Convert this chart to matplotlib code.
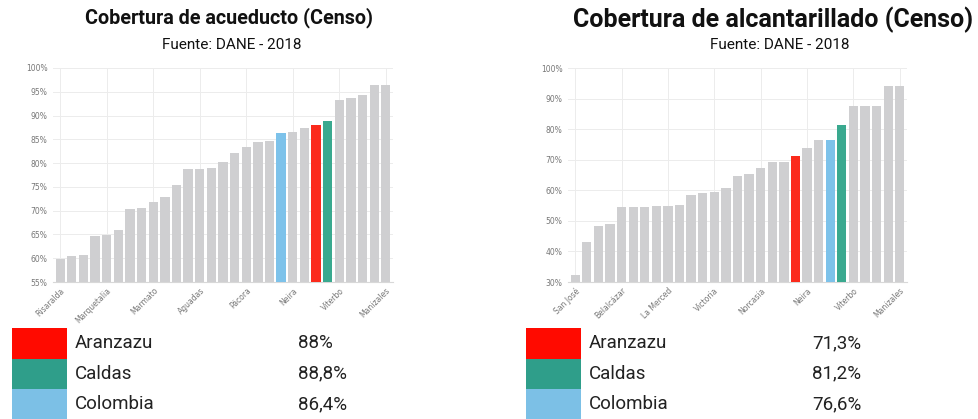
import matplotlib
matplotlib.use("Agg")
import matplotlib.pyplot as plt
from matplotlib.patches import Rectangle
import numpy as np

plt.rcParams['font.family'] = ['Roboto', 'DejaVu Sans']

# ---- data ----
acue_values = [59.8, 60.5, 60.7, 64.7, 64.8, 66.0, 70.3, 70.6, 71.9, 72.8, 75.5, 78.7, 78.8, 78.9,
               80.3, 82.2, 83.4, 84.4, 84.6, 86.4, 86.6, 87.4, 88.0, 88.8, 93.2, 93.6, 94.4, 96.4, 96.4]
acue_colors_idx = {19: 'Colombia', 22: 'Aranzazu', 23: 'Caldas'}
acue_tick_idx = [0, 4, 8, 12, 16, 20, 24, 28]
acue_tick_labels = ['Risaralda', 'Marquetalia', 'Marmato', 'Aguadas', 'Pácora', 'Neira', 'Viterbo', 'Manizales']

alc_values = [32.3, 43.2, 48.2, 49.0, 54.5, 54.6, 54.6, 54.7, 55.0, 55.2, 58.4, 59.0, 59.4, 60.9,
              64.7, 65.4, 67.4, 69.1, 69.3, 71.3, 73.8, 76.6, 76.6, 81.2, 87.6, 87.6, 87.7, 94.0, 94.0]
alc_colors_idx = {19: 'Aranzazu', 22: 'Colombia', 23: 'Caldas'}
alc_tick_idx = [0, 4, 8, 12, 16, 20, 24, 28]
alc_tick_labels = ['San José', 'Belalcázar', 'La Merced', 'Victoria', 'Norcasia', 'Neira', 'Viterbo', 'Manizales']

legend_names = ['Aranzazu', 'Caldas', 'Colombia']
acue_legend_values = ['88%', '88,8%', '86,4%']
alc_legend_values = ['71,3%', '81,2%', '76,6%']

bar_colors = {'Aranzazu': '#fb2a1c', 'Caldas': '#3aa98f', 'Colombia': '#7dc2ea'}
legend_colors = {'Aranzazu': '#ff0a00', 'Caldas': '#2f9e8a', 'Colombia': '#7cc0e6'}
GRAY = '#cfcfd1'

W, H = 979, 419
fig = plt.figure(figsize=(W / 100, H / 100), dpi=100)


def draw_chart(rect, values, special, ticks, labels, ymin, ystep, title, tcx, tcy, tsize, scx):
    ax = fig.add_axes(rect)
    x = np.arange(len(values))
    cols = [bar_colors[special[i]] if i in special else GRAY for i in x]
    ax.bar(x, [v - ymin for v in values], bottom=ymin, width=0.8, color=cols, zorder=3)
    ax.set_ylim(ymin, 100)
    ax.set_xlim(-0.62, len(values) - 0.38)
    yt = np.arange(ymin, 100.1, ystep)
    ax.set_yticks(yt)
    ax.set_yticklabels([f"{int(v)}%" for v in yt], fontsize=5.5, color='#777777', family='DejaVu Sans')
    ax.set_xticks(ticks)
    ax.set_xticklabels(labels, rotation=45, ha='right', rotation_mode='anchor',
                       fontsize=5.5, color='#777777', family='DejaVu Sans')
    ax.tick_params(axis='both', length=0, pad=4)
    ax.tick_params(axis='x', pad=3)
    ax.grid(True, color='#ececec', linewidth=0.7, zorder=0)
    for s in ['top', 'right', 'left']:
        ax.spines[s].set_visible(False)
    ax.spines['bottom'].set_color('#d8d8d8')
    ax.spines['bottom'].set_linewidth(0.8)
    fig.text(tcx / W, 1 - tcy / H, title, ha='center', va='center', fontsize=tsize,
             fontweight='bold', color='#111111')
    fig.text(scx / W, 1 - 45 / H, 'Fuente: DANE - 2018', ha='center', va='center',
             fontsize=11, color='#111111')
    return ax


draw_chart([53 / W, 1 - 282 / H, 340 / W, 214 / H], acue_values, acue_colors_idx,
           acue_tick_idx, acue_tick_labels, 55, 5, 'Cobertura de acueducto (Censo)',
           229, 18, 14.2, 232)
draw_chart([568 / W, 1 - 282 / H, 339 / W, 214 / H], alc_values, alc_colors_idx,
           alc_tick_idx, alc_tick_labels, 30, 10, 'Cobertura de alcantarillado (Censo)',
           773, 20, 18, 780)


def draw_legend(x0, xtext, xval, vals):
    top = 328
    rh = 30.5
    for i, name in enumerate(legend_names):
        y = top + i * rh
        fig.patches.append(Rectangle((x0 / W, 1 - (y + rh) / H), 55 / W, rh / H,
                                     transform=fig.transFigure, color=legend_colors[name],
                                     linewidth=0))
        fig.text(xtext / W, 1 - (y + rh / 2) / H, name, ha='left', va='center',
                 fontsize=13.5, color='#222222')
        fig.text(xval / W, 1 - (y + rh / 2) / H, vals[i], ha='left', va='center',
                 fontsize=13.5, color='#222222')


draw_legend(12, 75, 298, acue_legend_values)
draw_legend(526, 589, 812, alc_legend_values)

fig.savefig('out.png', dpi=100, facecolor='white')
